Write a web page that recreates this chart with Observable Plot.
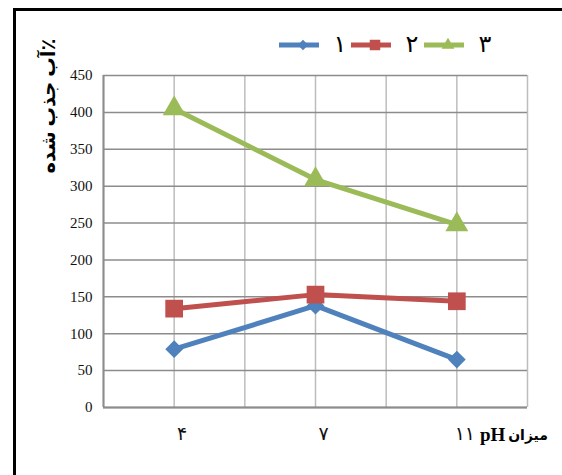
<!DOCTYPE html>
<html><head><meta charset="utf-8">
<script src="https://cdn.jsdelivr.net/npm/d3@7"></script>
<script src="https://cdn.jsdelivr.net/npm/@observablehq/plot@0.6"></script>
<style>
body{margin:0;background:#fff;}
#wrap{position:relative;width:562px;height:475px;overflow:hidden;}
#frame{position:absolute;left:13px;top:8px;width:700px;height:600px;border-left:3px solid #000;border-top:3px solid #000;}
svg{position:absolute;left:0;top:0;}
svg text{font-family:'Liberation Serif','DejaVu Sans',serif !important;}
</style></head>
<body><div id="wrap"><div id="frame"></div></div>
<script>
const categories = ["۴", "۷", "۱۱"];
const seriesNames = ["۱", "۲", "۳"];
const series1 = [79, 138, 65];
const series2 = [134, 153, 144];
const series3 = [405, 309, 248];
const yTicks = [0, 50, 100, 150, 200, 250, 300, 350, 400, 450];
const yLabel = "٪آب جذب شده";
const xLabelWord = "میزان";
const xLabelUnit = "pH";
const colors = ["#4F81BD", "#C0504D", "#9BBB59"];
const symbols = ["diamond2", "square", "triangle"];

const allSeries = [series1, series2, series3];
const data = [];
allSeries.forEach((vals, s) => vals.forEach((v, i) => data.push({s: seriesNames[s], xi: 2*i+1, cat: categories[i], v})));

const serif = "'Liberation Serif','DejaVu Sans',serif";
const marks = [
  Plot.gridX([0,1,2,3,4,5,6], {stroke:"#bdbdbd", strokeOpacity:1, strokeWidth:1.5}),
  Plot.gridY(yTicks, {stroke:"#8c8c8c", strokeOpacity:1, strokeWidth:1.5}),
  Plot.ruleX([0], {stroke:"#8c8c8c", strokeWidth:2}),
  Plot.ruleY([0], {stroke:"#8c8c8c", strokeWidth:2}),
  Plot.axisY(yTicks, {tickSize:0, tickPadding:11, fontSize:15, fontFamily:serif, label:null, fill:"#111"}),
  Plot.axisX([1,3,5], {tickSize:0, tickPadding:19, fontSize:19, dx:8, fontFamily:serif, label:null, tickFormat:d=>categories[(d-1)/2], fill:"#111"})
];
seriesNames.forEach((n, s) => {
  const d = data.filter(r => r.s === n);
  marks.push(Plot.line(d, {x:"xi", y:"v", stroke:colors[s], strokeWidth:5}));
  marks.push(Plot.dot(d, {x:"xi", y:"v", fill:colors[s], stroke:"none", symbol:symbols[s], r: s===1 ? 10 : (s===0 ? 8 : 8.5)}));
});

const chart = Plot.plot({
  width:562, height:475,
  marginLeft:103, marginRight:35, marginTop:75, marginBottom:68,
  x:{domain:[0,6], axis:null},
  y:{domain:[0,450], axis:null},
  style:{background:"transparent", fontFamily:serif},
  marks
});
document.getElementById("wrap").appendChild(chart);

const svg = d3.select(chart);
// y label
svg.append("text")
  .attr("transform","translate(51,106) rotate(-90)")
  .attr("text-anchor","middle").attr("dominant-baseline","middle")
  .attr("direction","rtl")
  .attr("font-size",19.5).attr("font-weight","bold").attr("fill","#000")
  .text(yLabel);
// x label (RTL: word on the right, unit on the left)
svg.append("text")
  .attr("x",548).attr("y",437)
  .attr("text-anchor","end").attr("dominant-baseline","middle")
  .attr("font-size",14).attr("font-weight","bold").attr("fill","#000")
  .text(xLabelWord);
svg.append("text")
  .attr("x",480).attr("y",437)
  .attr("text-anchor","start").attr("dominant-baseline","middle")
  .attr("font-size",19).attr("font-weight","bold").attr("fill","#000")
  .text(xLabelUnit);
// legend
const legX = [279, 351, 424];
const sym = {diamond2:d3.symbolDiamond2, square:d3.symbolSquare, triangle:d3.symbolTriangle};
seriesNames.forEach((n, s) => {
  const g = svg.append("g").attr("transform",`translate(${legX[s]},45)`);
  g.append("line").attr("x1",0).attr("x2",40).attr("y1",0).attr("y2",0).attr("stroke",colors[s]).attr("stroke-width",5);
  const sz = s===1 ? 110 : 70;
  g.append("path").attr("transform","translate(24,0)").attr("d", d3.symbol(sym[symbols[s]], sz)()).attr("fill",colors[s]);
  g.append("text").attr("x",61).attr("y",1).attr("text-anchor","middle").attr("dominant-baseline","middle")
    .attr("font-size",24).attr("fill","#000").text(n);
});
</script></body></html>
